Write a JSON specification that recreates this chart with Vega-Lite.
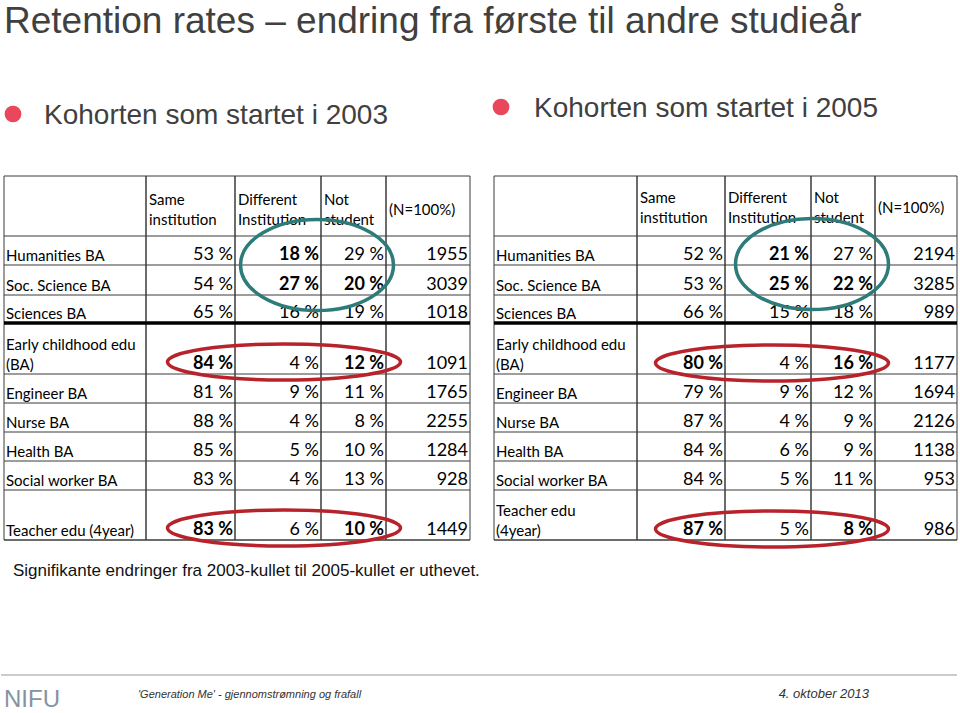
{
  "$schema": "https://vega.github.io/schema/vega-lite/v6.json",
  "width": 960,
  "height": 713,
  "autosize": {"type": "fit", "contains": "padding"},
  "padding": 0,
  "background": "white",
  "datasets": {
    "tables": [
      {"cohort": "2003", "program": "Humanities BA", "same": 0.53, "different": 0.18, "notStudent": 0.29, "n": 1955, "significant": ["different"]},
      {"cohort": "2003", "program": "Soc. Science BA", "same": 0.54, "different": 0.27, "notStudent": 0.20, "n": 3039, "significant": ["different", "notStudent"]},
      {"cohort": "2003", "program": "Sciences BA", "same": 0.65, "different": 0.16, "notStudent": 0.19, "n": 1018, "significant": []},
      {"cohort": "2003", "program": "Early childhood edu\n(BA)", "same": 0.84, "different": 0.04, "notStudent": 0.12, "n": 1091, "significant": ["same", "notStudent"]},
      {"cohort": "2003", "program": "Engineer BA", "same": 0.81, "different": 0.09, "notStudent": 0.11, "n": 1765, "significant": []},
      {"cohort": "2003", "program": "Nurse BA", "same": 0.88, "different": 0.04, "notStudent": 0.08, "n": 2255, "significant": []},
      {"cohort": "2003", "program": "Health BA", "same": 0.85, "different": 0.05, "notStudent": 0.10, "n": 1284, "significant": []},
      {"cohort": "2003", "program": "Social worker BA", "same": 0.83, "different": 0.04, "notStudent": 0.13, "n": 928, "significant": []},
      {"cohort": "2003", "program": "Teacher edu (4year)", "same": 0.83, "different": 0.06, "notStudent": 0.10, "n": 1449, "significant": ["same", "notStudent"]},
      {"cohort": "2005", "program": "Humanities BA", "same": 0.52, "different": 0.21, "notStudent": 0.27, "n": 2194, "significant": ["different"]},
      {"cohort": "2005", "program": "Soc. Science BA", "same": 0.53, "different": 0.25, "notStudent": 0.22, "n": 3285, "significant": ["different", "notStudent"]},
      {"cohort": "2005", "program": "Sciences BA", "same": 0.66, "different": 0.15, "notStudent": 0.18, "n": 989, "significant": []},
      {"cohort": "2005", "program": "Early childhood edu\n(BA)", "same": 0.80, "different": 0.04, "notStudent": 0.16, "n": 1177, "significant": ["same", "notStudent"]},
      {"cohort": "2005", "program": "Engineer BA", "same": 0.79, "different": 0.09, "notStudent": 0.12, "n": 1694, "significant": []},
      {"cohort": "2005", "program": "Nurse BA", "same": 0.87, "different": 0.04, "notStudent": 0.09, "n": 2126, "significant": []},
      {"cohort": "2005", "program": "Health BA", "same": 0.84, "different": 0.06, "notStudent": 0.09, "n": 1138, "significant": []},
      {"cohort": "2005", "program": "Social worker BA", "same": 0.84, "different": 0.05, "notStudent": 0.11, "n": 953, "significant": []},
      {"cohort": "2005", "program": "Teacher edu\n(4year)", "same": 0.87, "different": 0.05, "notStudent": 0.08, "n": 986, "significant": ["same", "notStudent"]}
    ],
    "columns": [
      {"key": "program", "header": "", "left": 0, "right": 1},
      {"key": "same", "header": "Same\ninstitution", "left": 1, "right": 2},
      {"key": "different", "header": "Different\nInstitution", "left": 2, "right": 3},
      {"key": "notStudent", "header": "Not\nstudent", "left": 3, "right": 4},
      {"key": "n", "header": "(N=100%)", "left": 4, "right": 5}
    ]
  },
  "layer": [
    {
      "data": {"name": "tables"},
      "transform": [
        {"filter": "datum.cohort === '2003'"},
        {"window": [{"op": "row_number", "as": "row"}]}
      ],
      "layer": [
        {
          "data": {"name": "columns"},
          "mark": {"type": "rect", "filled": false, "color": "#3a3a3a", "strokeWidth": 1},
          "encoding": {
            "x": {"field": "left", "type": "quantitative", "scale": {"domain": [0, 1, 2, 3, 4, 5], "range": [3, 145, 234, 320, 385, 469], "nice": false, "zero": false}, "axis": null},
            "x2": {"field": "right"},
            "y": {"datum": -1, "type": "quantitative", "scale": {"domain": [-5, -3, -1, 0, 1, 2, 3, 4, 5, 6, 7, 8, 9, 10, 11, 12], "range": [33, 124, 176, 236, 265, 295, 323, 374, 403, 432, 461, 490, 540, 576, 675, 698], "nice": false, "zero": false}, "axis": null},
            "y2": {"datum": 9}
          }
        },
        {
          "data": {"name": "columns"},
          "mark": {"type": "rule", "color": "#3a3a3a", "strokeWidth": 1},
          "encoding": {
            "x": {"field": "left", "type": "quantitative"},
            "x2": {"field": "right"},
            "y": {"datum": 0, "type": "quantitative"}
          }
        },
        {
          "mark": {"type": "rule", "color": "#3a3a3a", "strokeWidth": 1},
          "encoding": {
            "x": {"datum": 0, "type": "quantitative"},
            "x2": {"datum": 5},
            "y": {"field": "row", "type": "quantitative"}
          }
        },
        {
          "transform": [{"filter": "datum.program === 'Sciences BA'"}],
          "mark": {"type": "rule", "color": "#000000", "strokeWidth": 3.5},
          "encoding": {
            "x": {"datum": 0, "type": "quantitative"},
            "x2": {"datum": 5},
            "y": {"field": "row", "type": "quantitative"}
          }
        },
        {
          "data": {"name": "columns"},
          "mark": {"type": "text", "align": "left", "baseline": "middle", "dx": 3, "dy": {"expr": "4 - 10 * (length(split(datum.header, '\\n')) - 1)"}, "lineBreak": "\n", "lineHeight": 20, "font": "Lato", "fontSize": 15, "color": "#000000"},
          "encoding": {
            "x": {"field": "left", "type": "quantitative"},
            "y": {"datum": -0.5, "type": "quantitative"},
            "text": {"field": "header"}
          }
        },
        {
          "mark": {"type": "text", "align": "left", "baseline": "bottom", "dx": 2, "dy": {"expr": "-1 - 20 * (length(split(datum.program, '\\n')) - 1)"}, "lineBreak": "\n", "lineHeight": 20, "font": "Lato", "fontSize": 15, "color": "#000000"},
          "encoding": {
            "x": {"datum": 0, "type": "quantitative"},
            "y": {"field": "row", "type": "quantitative"},
            "text": {"field": "program"}
          }
        },
        {
          "transform": [
            {"fold": ["same", "different", "notStudent"], "as": ["key", "value"]},
            {"lookup": "key", "from": {"data": {"name": "columns"}, "key": "key", "fields": ["right"]}},
            {"filter": "indexof(datum.significant, datum.key) < 0"}
          ],
          "mark": {"type": "text", "align": "right", "baseline": "bottom", "dx": -2, "dy": -1, "font": "Lato", "fontSize": 18, "color": "#000000"},
          "encoding": {
            "x": {"field": "right", "type": "quantitative"},
            "y": {"field": "row", "type": "quantitative"},
            "text": {"field": "value", "type": "quantitative", "format": ".0%"}
          }
        },
        {
          "transform": [
            {"fold": ["same", "different", "notStudent"], "as": ["key", "value"]},
            {"lookup": "key", "from": {"data": {"name": "columns"}, "key": "key", "fields": ["right"]}},
            {"filter": "indexof(datum.significant, datum.key) >= 0"}
          ],
          "mark": {"type": "text", "align": "right", "baseline": "bottom", "dx": -2, "dy": -1, "font": "Lato", "fontSize": 18, "fontWeight": "bold", "color": "#000000"},
          "encoding": {
            "x": {"field": "right", "type": "quantitative"},
            "y": {"field": "row", "type": "quantitative"},
            "text": {"field": "value", "type": "quantitative", "format": ".0%"}
          }
        },
        {
          "mark": {"type": "text", "align": "right", "baseline": "bottom", "dx": -2, "dy": -1, "font": "Lato", "fontSize": 18, "color": "#000000"},
          "encoding": {
            "x": {"datum": 5, "type": "quantitative"},
            "y": {"field": "row", "type": "quantitative"},
            "text": {"field": "n", "type": "quantitative", "format": "d"}
          }
        },
        {
          "transform": [{"filter": "indexof(datum.significant, 'different') >= 0"}],
          "mark": {"type": "point", "filled": false, "opacity": 1, "stroke": "#2e7c7a", "strokeWidth": 3.5, "size": 23409, "yOffset": -15, "xOffset": -4, "shape": "M-1,0C-1,-0.3286,-0.5523,-0.595,0,-0.595C0.5523,-0.595,1,-0.3286,1,0C1,0.3286,0.5523,0.595,0,0.595C-0.5523,0.595,-1,0.3286,-1,0Z"},
          "encoding": {
            "x": {"datum": 3, "type": "quantitative"},
            "y": {"field": "row", "aggregate": "mean", "type": "quantitative"}
          }
        },
        {
          "transform": [{"filter": "indexof(datum.significant, 'same') >= 0"}],
          "mark": {"type": "point", "filled": false, "opacity": 1, "stroke": "#b8232b", "strokeWidth": 3.5, "size": 54289, "yOffset": -12, "xOffset": -37, "shape": "M-1,0C-1,-0.0853,-0.5523,-0.1545,0,-0.1545C0.5523,-0.1545,1,-0.0853,1,0C1,0.0853,0.5523,0.1545,0,0.1545C-0.5523,0.1545,-1,0.0853,-1,0Z"},
          "encoding": {
            "x": {"datum": 3, "type": "quantitative"},
            "y": {"field": "row", "type": "quantitative"}
          }
        },
        {
          "data": {"values": [{"heading": "Kohorten som startet i 2003"}]},
          "mark": {"type": "point", "filled": true, "shape": "circle", "size": 280, "opacity": 1, "color": "#e8475c", "xOffset": 9, "yOffset": -10},
          "encoding": {
            "x": {"datum": 0, "type": "quantitative"},
            "y": {"datum": -3, "type": "quantitative"}
          }
        },
        {
          "data": {"values": [{"heading": "Kohorten som startet i 2003"}]},
          "mark": {"type": "text", "align": "left", "baseline": "alphabetic", "dx": 40, "font": "Liberation Sans", "fontSize": 28, "color": "#404040"},
          "encoding": {
            "x": {"datum": 0, "type": "quantitative"},
            "y": {"datum": -3, "type": "quantitative"},
            "text": {"field": "heading"}
          }
        },
        {
          "data": {"values": [{"title": "Retention rates – endring fra første til andre studieår"}]},
          "mark": {"type": "text", "align": "left", "baseline": "alphabetic", "dx": 0, "font": "Liberation Sans", "fontSize": 37, "color": "#404040"},
          "encoding": {
            "x": {"datum": 0, "type": "quantitative"},
            "y": {"datum": -5, "type": "quantitative"},
            "text": {"field": "title"}
          }
        },
        {
          "data": {"values": [{"note": "Signifikante endringer fra 2003-kullet til 2005-kullet er uthevet."}]},
          "mark": {"type": "text", "align": "left", "baseline": "alphabetic", "dx": 9, "font": "Liberation Sans", "fontSize": 17, "color": "#111111"},
          "encoding": {
            "x": {"datum": 0, "type": "quantitative"},
            "y": {"datum": 10, "type": "quantitative"},
            "text": {"field": "note"}
          }
        },
        {
          "data": {"values": [{"footer": "line"}]},
          "mark": {"type": "rule", "color": "#cccccc", "strokeWidth": 2, "xOffset": -3},
          "encoding": {
            "x": {"datum": 0, "type": "quantitative"},
            "x2": {"datum": 5},
            "y": {"datum": 11, "type": "quantitative"}
          }
        },
        {
          "data": {"values": [{"logo": "NIFU"}]},
          "mark": {"type": "text", "align": "left", "baseline": "alphabetic", "dx": 0, "dy": 9, "font": "Liberation Sans", "fontSize": 24, "color": "#8593a1"},
          "encoding": {
            "x": {"datum": 0, "type": "quantitative"},
            "y": {"datum": 12, "type": "quantitative"},
            "text": {"field": "logo"}
          }
        },
        {
          "data": {"values": [{"footer": "'Generation Me' - gjennomstrømning og frafall"}]},
          "mark": {"type": "text", "align": "left", "baseline": "alphabetic", "dx": -8, "font": "Liberation Sans", "fontSize": 11, "fontStyle": "italic", "color": "#333333"},
          "encoding": {
            "x": {"datum": 1, "type": "quantitative"},
            "y": {"datum": 12, "type": "quantitative"},
            "text": {"field": "footer"}
          }
        }
      ]
    },
    {
      "data": {"name": "tables"},
      "transform": [
        {"filter": "datum.cohort === '2005'"},
        {"window": [{"op": "row_number", "as": "row"}]}
      ],
      "layer": [
        {
          "data": {"name": "columns"},
          "mark": {"type": "rect", "filled": false, "color": "#3a3a3a", "strokeWidth": 1},
          "encoding": {
            "x": {"field": "left", "type": "quantitative", "scale": {"domain": [0, 1, 2, 3, 4, 5], "range": [493, 636, 724, 810, 874, 956], "nice": false, "zero": false}, "axis": null},
            "x2": {"field": "right"},
            "y": {"datum": -1, "type": "quantitative"},
            "y2": {"datum": 9}
          }
        },
        {
          "data": {"name": "columns"},
          "mark": {"type": "rule", "color": "#3a3a3a", "strokeWidth": 1},
          "encoding": {
            "x": {"field": "left", "type": "quantitative"},
            "x2": {"field": "right"},
            "y": {"datum": 0, "type": "quantitative"}
          }
        },
        {
          "mark": {"type": "rule", "color": "#3a3a3a", "strokeWidth": 1},
          "encoding": {
            "x": {"datum": 0, "type": "quantitative"},
            "x2": {"datum": 5},
            "y": {"field": "row", "type": "quantitative"}
          }
        },
        {
          "transform": [{"filter": "datum.program === 'Sciences BA'"}],
          "mark": {"type": "rule", "color": "#000000", "strokeWidth": 3.5},
          "encoding": {
            "x": {"datum": 0, "type": "quantitative"},
            "x2": {"datum": 5},
            "y": {"field": "row", "type": "quantitative"}
          }
        },
        {
          "data": {"name": "columns"},
          "mark": {"type": "text", "align": "left", "baseline": "middle", "dx": 3, "dy": {"expr": "2 - 10 * (length(split(datum.header, '\\n')) - 1)"}, "lineBreak": "\n", "lineHeight": 20, "font": "Lato", "fontSize": 15, "color": "#000000"},
          "encoding": {
            "x": {"field": "left", "type": "quantitative"},
            "y": {"datum": -0.5, "type": "quantitative"},
            "text": {"field": "header"}
          }
        },
        {
          "mark": {"type": "text", "align": "left", "baseline": "bottom", "dx": 2, "dy": {"expr": "-1 - 20 * (length(split(datum.program, '\\n')) - 1)"}, "lineBreak": "\n", "lineHeight": 20, "font": "Lato", "fontSize": 15, "color": "#000000"},
          "encoding": {
            "x": {"datum": 0, "type": "quantitative"},
            "y": {"field": "row", "type": "quantitative"},
            "text": {"field": "program"}
          }
        },
        {
          "transform": [
            {"fold": ["same", "different", "notStudent"], "as": ["key", "value"]},
            {"lookup": "key", "from": {"data": {"name": "columns"}, "key": "key", "fields": ["right"]}},
            {"filter": "indexof(datum.significant, datum.key) < 0"}
          ],
          "mark": {"type": "text", "align": "right", "baseline": "bottom", "dx": -2, "dy": -1, "font": "Lato", "fontSize": 18, "color": "#000000"},
          "encoding": {
            "x": {"field": "right", "type": "quantitative"},
            "y": {"field": "row", "type": "quantitative"},
            "text": {"field": "value", "type": "quantitative", "format": ".0%"}
          }
        },
        {
          "transform": [
            {"fold": ["same", "different", "notStudent"], "as": ["key", "value"]},
            {"lookup": "key", "from": {"data": {"name": "columns"}, "key": "key", "fields": ["right"]}},
            {"filter": "indexof(datum.significant, datum.key) >= 0"}
          ],
          "mark": {"type": "text", "align": "right", "baseline": "bottom", "dx": -2, "dy": -1, "font": "Lato", "fontSize": 18, "fontWeight": "bold", "color": "#000000"},
          "encoding": {
            "x": {"field": "right", "type": "quantitative"},
            "y": {"field": "row", "type": "quantitative"},
            "text": {"field": "value", "type": "quantitative", "format": ".0%"}
          }
        },
        {
          "mark": {"type": "text", "align": "right", "baseline": "bottom", "dx": -2, "dy": -1, "font": "Lato", "fontSize": 18, "color": "#000000"},
          "encoding": {
            "x": {"datum": 5, "type": "quantitative"},
            "y": {"field": "row", "type": "quantitative"},
            "text": {"field": "n", "type": "quantitative", "format": "d"}
          }
        },
        {
          "transform": [{"filter": "indexof(datum.significant, 'different') >= 0"}],
          "mark": {"type": "point", "filled": false, "opacity": 1, "stroke": "#2e7c7a", "strokeWidth": 3.5, "size": 23409, "yOffset": -16, "xOffset": 1, "shape": "M-1,0C-1,-0.3286,-0.5523,-0.595,0,-0.595C0.5523,-0.595,1,-0.3286,1,0C1,0.3286,0.5523,0.595,0,0.595C-0.5523,0.595,-1,0.3286,-1,0Z"},
          "encoding": {
            "x": {"datum": 3, "type": "quantitative"},
            "y": {"field": "row", "aggregate": "mean", "type": "quantitative"}
          }
        },
        {
          "transform": [{"filter": "indexof(datum.significant, 'same') >= 0"}],
          "mark": {"type": "point", "filled": false, "opacity": 1, "stroke": "#b8232b", "strokeWidth": 3.5, "size": 54289, "yOffset": -11, "xOffset": -39, "shape": "M-1,0C-1,-0.0853,-0.5523,-0.1545,0,-0.1545C0.5523,-0.1545,1,-0.0853,1,0C1,0.0853,0.5523,0.1545,0,0.1545C-0.5523,0.1545,-1,0.0853,-1,0Z"},
          "encoding": {
            "x": {"datum": 3, "type": "quantitative"},
            "y": {"field": "row", "type": "quantitative"}
          }
        },
        {
          "data": {"values": [{"heading": "Kohorten som startet i 2005"}]},
          "mark": {"type": "point", "filled": true, "shape": "circle", "size": 280, "opacity": 1, "color": "#e8475c", "xOffset": 7, "yOffset": -17},
          "encoding": {
            "x": {"datum": 0, "type": "quantitative"},
            "y": {"datum": -3, "type": "quantitative"}
          }
        },
        {
          "data": {"values": [{"heading": "Kohorten som startet i 2005"}]},
          "mark": {"type": "text", "align": "left", "baseline": "alphabetic", "dx": 40, "dy": -7, "font": "Liberation Sans", "fontSize": 28, "color": "#404040"},
          "encoding": {
            "x": {"datum": 0, "type": "quantitative"},
            "y": {"datum": -3, "type": "quantitative"},
            "text": {"field": "heading"}
          }
        },
        {
          "data": {"values": [{"footer": "line"}]},
          "mark": {"type": "rule", "color": "#cccccc", "strokeWidth": 2, "xOffset": -26},
          "encoding": {
            "x": {"datum": 0, "type": "quantitative"},
            "x2": {"datum": 5},
            "y": {"datum": 11, "type": "quantitative"}
          }
        },
        {
          "data": {"values": [{"date": "4. oktober 2013"}]},
          "mark": {"type": "text", "align": "right", "baseline": "alphabetic", "dx": -6, "font": "Liberation Sans", "fontSize": 13, "fontStyle": "italic", "color": "#333333"},
          "encoding": {
            "x": {"datum": 4, "type": "quantitative"},
            "y": {"datum": 12, "type": "quantitative"},
            "text": {"field": "date"}
          }
        }
      ]
    }
  ],
  "resolve": {"scale": {"x": "independent"}},
  "config": {
    "view": {"stroke": null},
    "axis": {"disable": true},
    "locale": {
      "number": {"decimal": ".", "thousands": ",", "grouping": [3], "currency": ["", ""], "percent": " %"}
    }
  }
}
